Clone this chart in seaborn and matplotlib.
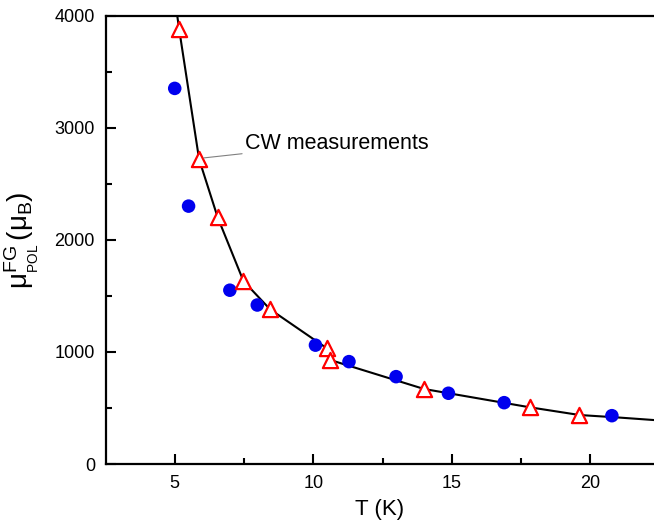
import matplotlib
matplotlib.use('Agg')
import matplotlib.pyplot as plt
import seaborn as sns
import pandas as pd
from matplotlib.ticker import MultipleLocator

# data
T_blue = [5.0, 5.5, 6.99, 7.98, 10.08, 11.29, 12.99, 14.88, 16.89, 20.78]
mu_blue = [3350, 2300, 1550, 1418, 1060, 913, 779, 631, 547, 431]

T_cw = [5.16, 5.88, 6.55, 7.48, 8.44, 10.49, 10.61, 14.0, 17.81, 19.61]
mu_cw = [3878, 2718, 2200, 1632, 1380, 1032, 928, 669, 506, 437]

T_fit = [5.09, 5.16, 5.88, 6.55, 7.48, 8.44, 10.49, 10.61, 14.0, 17.81, 19.61, 21.0, 22.3]
mu_fit = [4000, 3878, 2718, 2200, 1632, 1380, 1032, 928, 669, 506, 437, 415, 392]

df_blue = pd.DataFrame({'T': T_blue, 'mu': mu_blue})
df_cw = pd.DataFrame({'T': T_cw, 'mu': mu_cw})
df_fit = pd.DataFrame({'T': T_fit, 'mu': mu_fit})

sns.set_style('ticks')
plt.rcParams['font.family'] = ['Liberation Sans', 'DejaVu Sans']
plt.rcParams['mathtext.fontset'] = 'custom'
plt.rcParams['mathtext.rm'] = 'Liberation Sans'
plt.rcParams['mathtext.it'] = 'Liberation Sans'
plt.rcParams['mathtext.bf'] = 'Liberation Sans:bold'
for key in ['text.color', 'axes.labelcolor', 'xtick.color', 'ytick.color', 'axes.edgecolor']:
    plt.rcParams[key] = 'black'

fig = plt.figure(figsize=(6.54, 5.24), dpi=100)
ax = fig.add_axes([0.1621, 0.1145, 0.8379, 0.8559])

sns.lineplot(data=df_fit, x='T', y='mu', ax=ax, color='black', linewidth=1.5,
             sort=False, zorder=1)
sns.scatterplot(data=df_blue, x='T', y='mu', ax=ax, color='#0000ee', s=95,
                edgecolor='none', zorder=2)
sns.scatterplot(data=df_cw, x='T', y='mu', ax=ax, marker='^', s=120,
                facecolor='white', edgecolor='#ff0000', linewidth=1.6, zorder=3)

ax.annotate('CW measurements', xy=(6.05, 2730), xytext=(7.55, 2860),
            fontsize=15.5, va='center', ha='left',
            arrowprops=dict(arrowstyle='-', color='gray', lw=0.8,
                            shrinkA=0, shrinkB=0))

ax.set_xlim(2.52, 22.3)
ax.set_ylim(0, 4000)
ax.xaxis.set_major_locator(MultipleLocator(5))
ax.xaxis.set_minor_locator(MultipleLocator(2.5))
ax.yaxis.set_major_locator(MultipleLocator(1000))
ax.yaxis.set_minor_locator(MultipleLocator(500))
ax.tick_params(which='both', direction='in', width=1.5, labelsize=13, pad=8)
ax.tick_params(which='major', length=7)
ax.tick_params(which='minor', length=4)

for side in ['left', 'bottom', 'top']:
    ax.spines[side].set_linewidth(1.6)
ax.spines['right'].set_visible(False)
ax.tick_params(top=False, right=False, which='both')

ax.set_xlabel('T (K)', fontsize=16)
ax.set_ylabel(r'$\mathrm{μ}^{\mathrm{FG}}_{{}_{\mathrm{POL}}}\,(\mathrm{μ}_{\mathrm{B}})$', fontsize=20)
ax.xaxis.set_label_coords(0.5, -0.078)
ax.yaxis.set_label_coords(-0.118, 0.5)

plt.savefig('out.png', dpi=100)
plt.close()
